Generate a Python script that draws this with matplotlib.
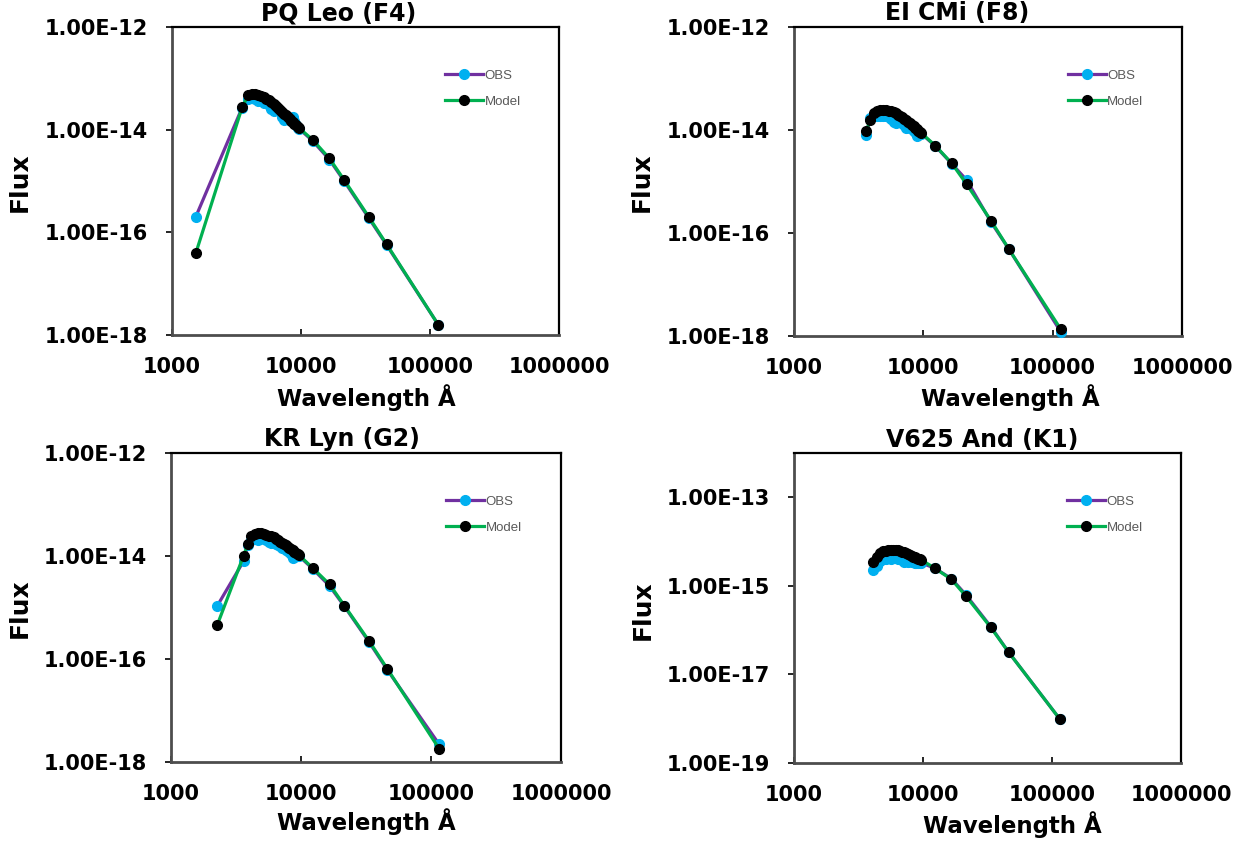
import matplotlib
matplotlib.use("Agg")
import matplotlib.pyplot as plt
from matplotlib.ticker import NullLocator

# ---------------- data ----------------
pq_wl = [1528, 3500, 3900, 4150, 4400, 4650, 4900, 5150, 5400, 5650, 5900, 6150, 6400, 6650,
         6900, 7150, 7400, 7650, 7900, 8150, 8400, 8650, 8900, 9150, 9400, 9650,
         12350, 16620, 21590, 33526, 46028, 115608]
pq_obs = [2.0e-16, 2.7e-14, 4.0e-14, 4.2e-14, 4.0e-14, 3.6e-14, 3.7e-14, 3.3e-14, 3.5e-14, 3.0e-14,
          2.5e-14, 2.3e-14, 2.5e-14, 2.4e-14, 2.3e-14, 1.8e-14, 1.55e-14, 1.7e-14, 1.7e-14, 1.6e-14,
          1.5e-14, 1.75e-14, 1.45e-14, 1.25e-14, 1.1e-14, 1.05e-14,
          6.0e-15, 2.6e-15, 1.0e-15, 1.9e-16, 5.7e-17, 1.6e-18]
pq_model = [3.9e-17, 2.75e-14, 4.7e-14, 5.0e-14, 5.0e-14, 4.8e-14, 4.6e-14, 4.3e-14, 4.0e-14, 3.7e-14,
            3.4e-14, 3.15e-14, 2.9e-14, 2.65e-14, 2.45e-14, 2.25e-14, 2.05e-14, 1.9e-14, 1.75e-14, 1.62e-14,
            1.5e-14, 1.4e-14, 1.3e-14, 1.22e-14, 1.15e-14, 1.08e-14,
            6.3e-15, 2.75e-15, 1.05e-15, 2.0e-16, 5.9e-17, 1.6e-18]

ei_wl = [3600, 3900, 4150, 4400, 4650, 4900, 5150, 5400, 5650, 5900, 6150, 6400, 6650,
         6900, 7150, 7400, 7650, 7900, 8150, 8400, 8650, 8900, 9150, 9400, 9650,
         12350, 16620, 21590, 33526, 46028, 115608]
ei_obs = [8.0e-15, 1.7e-14, 1.85e-14, 1.9e-14, 1.85e-14, 1.9e-14, 1.85e-14, 1.8e-14, 1.6e-14, 1.45e-14,
          1.35e-14, 1.45e-14, 1.4e-14, 1.35e-14, 1.25e-14, 1.1e-14, 1.15e-14, 1.1e-14, 1.05e-14, 0.95e-14,
          0.9e-14, 0.75e-14, 0.8e-14, 0.85e-14, 0.85e-14,
          4.9e-15, 2.2e-15, 1.07e-15, 1.6e-16, 4.8e-17, 1.2e-18]
ei_model = [9.5e-15, 1.55e-14, 2.1e-14, 2.35e-14, 2.45e-14, 2.45e-14, 2.4e-14, 2.35e-14, 2.3e-14, 2.2e-14,
            2.1e-14, 1.95e-14, 1.85e-14, 1.75e-14, 1.65e-14, 1.55e-14, 1.45e-14, 1.35e-14, 1.25e-14, 1.17e-14,
            1.1e-14, 1.03e-14, 0.97e-14, 0.92e-14, 0.87e-14,
            5.0e-15, 2.24e-15, 8.9e-16, 1.7e-16, 4.8e-17, 1.35e-18]

kr_wl = [2271, 3620, 3900, 4150, 4400, 4650, 4900, 5150, 5400, 5650, 5900, 6150, 6400, 6650,
         6900, 7150, 7400, 7650, 7900, 8150, 8400, 8650, 8900, 9150, 9400, 9650,
         12350, 16620, 21590, 33526, 46028, 115608]
kr_obs = [1.08e-15, 8.0e-15, 1.6e-14, 2.0e-14, 2.1e-14, 2.05e-14, 2.2e-14, 2.1e-14, 2.0e-14, 1.9e-14,
          1.75e-14, 1.8e-14, 1.7e-14, 1.6e-14, 1.55e-14, 1.45e-14, 1.4e-14, 1.3e-14, 1.25e-14, 1.2e-14,
          1.1e-14, 0.9e-14, 0.95e-14, 1.0e-14, 1.0e-14, 1.0e-14,
          5.6e-15, 2.6e-15, 1.05e-15, 2.1e-16, 6.2e-17, 2.2e-18]
kr_model = [4.6e-16, 1.02e-14, 1.7e-14, 2.4e-14, 2.65e-14, 2.75e-14, 2.75e-14, 2.7e-14, 2.6e-14, 2.5e-14,
            2.4e-14, 2.3e-14, 2.15e-14, 2.05e-14, 1.9e-14, 1.8e-14, 1.7e-14, 1.6e-14, 1.5e-14, 1.42e-14,
            1.35e-14, 1.28e-14, 1.2e-14, 1.14e-14, 1.08e-14, 1.04e-14,
            5.8e-15, 2.8e-15, 1.08e-15, 2.2e-16, 6.5e-17, 1.8e-18]

v6_wl = [4100, 4400, 4650, 4900, 5150, 5400, 5650, 5900, 6150, 6400, 6650,
         6900, 7150, 7400, 7650, 7900, 8150, 8400, 8650, 8900, 9150, 9400, 9650,
         12350, 16620, 21590, 33526, 46028, 115608]
v6_obs = [2.3e-15, 2.8e-15, 3.6e-15, 4.0e-15, 4.1e-15, 4.2e-15, 4.0e-15, 4.3e-15, 4.2e-15, 4.0e-15,
          4.1e-15, 3.9e-15, 3.5e-15, 3.6e-15, 3.5e-15, 3.6e-15, 3.5e-15, 3.4e-15, 3.3e-15, 3.3e-15,
          3.3e-15, 3.3e-15, 3.3e-15,
          2.5e-15, 1.45e-15, 6.2e-16, 1.2e-16, 3.2e-17, 9.6e-19]
v6_model = [3.4e-15, 4.6e-15, 5.6e-15, 6.0e-15, 6.2e-15, 6.3e-15, 6.5e-15, 6.6e-15, 6.5e-15, 6.3e-15,
            6.1e-15, 5.9e-15, 5.7e-15, 5.5e-15, 5.2e-15, 5.0e-15, 4.8e-15, 4.6e-15, 4.4e-15, 4.25e-15,
            4.1e-15, 4.0e-15, 3.9e-15,
            2.5e-15, 1.4e-15, 5.8e-16, 1.15e-16, 3.2e-17, 9.6e-19]

titles = ["PQ Leo (F4)", "EI CMi (F8)", "KR Lyn (G2)", "V625 And (K1)"]
x_ticks = [1e3, 1e4, 1e5, 1e6]
x_tick_labels = ["1000", "10000", "100000", "1000000"]
y_ticks_a = [1e-18, 1e-16, 1e-14, 1e-12]
y_tick_labels_a = ["1.00E-18", "1.00E-16", "1.00E-14", "1.00E-12"]
y_ticks_b = [1e-19, 1e-17, 1e-15, 1e-13]
y_tick_labels_b = ["1.00E-19", "1.00E-17", "1.00E-15", "1.00E-13"]
series_labels = ["OBS", "Model"]
x_label = "Wavelength Å"
y_label = "Flux"

# ---------------- layout ----------------
W, H = 1253, 841
fig = plt.figure(figsize=(W / 100, H / 100), dpi=100)
fig.patch.set_facecolor("white")

panels = [
    dict(wl=pq_wl, obs=pq_obs, model=pq_model, box=(172, 27, 559, 335),
         ylim=(1e-18, 1e-12), yt=y_ticks_a, ytl=y_tick_labels_a,
         title_xy=(339, 13), xl_xy=(366, 398), yl_xy=(20, 182)),
    dict(wl=ei_wl, obs=ei_obs, model=ei_model, box=(794, 27, 1182, 336),
         ylim=(1e-18, 1e-12), yt=y_ticks_a, ytl=y_tick_labels_a,
         title_xy=(957, 13), xl_xy=(1010, 398), yl_xy=(642, 182)),
    dict(wl=kr_wl, obs=kr_obs, model=kr_model, box=(171, 453, 561, 762),
         ylim=(1e-18, 1e-12), yt=y_ticks_a, ytl=y_tick_labels_a,
         title_xy=(342, 439), xl_xy=(366, 822), yl_xy=(20, 608)),
    dict(wl=v6_wl, obs=v6_obs, model=v6_model, box=(794, 453, 1181, 763),
         ylim=(1e-19, 1e-12), yt=y_ticks_b, ytl=y_tick_labels_b,
         title_xy=(982, 440), xl_xy=(1012, 825), yl_xy=(643, 610)),
]

BOLD = "DejaVu Sans"

for i, p in enumerate(panels):
    x0, y0, x1, y1 = p["box"]
    ax = fig.add_axes([x0 / W, 1 - y1 / H, (x1 - x0) / W, (y1 - y0) / H])
    ax.plot(p["wl"], p["obs"], "-o", color="#7030A0", mfc="#00B0F0", mec="#00B0F0",
            ms=7, lw=2.3, label=series_labels[0], clip_on=False, zorder=3)
    ax.plot(p["wl"], p["model"], "-o", color="#00B050", mfc="black", mec="black",
            ms=7, lw=2.3, label=series_labels[1], clip_on=False, zorder=4)
    ax.set_xscale("log")
    ax.set_yscale("log")
    ax.set_xlim(1e3, 1e6)
    ax.set_ylim(*p["ylim"])
    ax.set_xticks(x_ticks, labels=x_tick_labels)
    ax.set_yticks(p["yt"], labels=p["ytl"])
    ax.xaxis.set_minor_locator(NullLocator())
    ax.yaxis.set_minor_locator(NullLocator())
    ax.tick_params(axis="x", direction="in", length=4, width=1.2, pad=16, labelsize=15)
    ax.tick_params(axis="y", direction="out", length=4, width=1.2, pad=13, labelsize=15)
    for lab in ax.get_xticklabels() + ax.get_yticklabels():
        lab.set_fontweight("bold")
        lab.set_family(BOLD)
    for side in ("top", "right"):
        ax.spines[side].set_color("black")
        ax.spines[side].set_linewidth(1.6)
    for side in ("left", "bottom"):
        ax.spines[side].set_color("#4d4d4d")
        ax.spines[side].set_linewidth(2.0)
    ax.set_facecolor("white")

    ax.legend(loc="upper left", bbox_to_anchor=(0.705, 0.862), frameon=False,
              prop=dict(family="Liberation Sans", size=9.5), handlelength=2.9,
              handletextpad=0.1, labelspacing=1.05, borderpad=0, borderaxespad=0,
              labelcolor="#595959")

    tx, ty = p["title_xy"]
    fig.text(tx / W, 1 - ty / H, titles[i], ha="center", va="center",
             fontsize=17, fontweight="bold", family=BOLD)
    lx, ly = p["xl_xy"]
    fig.text(lx / W, 1 - ly / H, x_label, ha="center", va="center",
             fontsize=16.5, fontweight="bold", family=BOLD)
    vx, vy = p["yl_xy"]
    fig.text(vx / W, 1 - vy / H, y_label, ha="center", va="center", rotation=90,
             fontsize=18, fontweight="bold", family=BOLD)

fig.savefig("out.png", dpi=100, facecolor="white")
